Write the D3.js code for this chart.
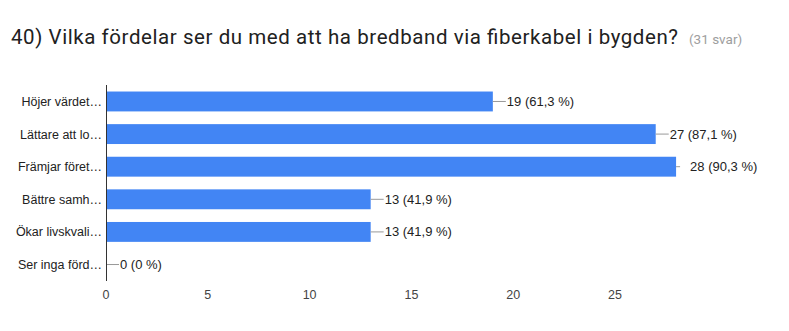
<!DOCTYPE html>
<html><head><meta charset="utf-8">
<script src="https://cdn.jsdelivr.net/npm/d3@7/dist/d3.min.js"></script>
<style>body{margin:0;background:#fff;}svg{display:block;}</style>
</head><body>
<svg id="c" width="789" height="331"></svg>
<script>
const titleText = "40) Vilka fördelar ser du med att ha bredband via fiberkabel i bygden?";
const subText = "(31 svar)";
const categories = ["Höjer värdet…","Lättare att lo…","Främjar föret…","Bättre samh…","Ökar livskvali…","Ser inga förd…"];
const values = [19, 27, 28, 13, 13, 0];
const percents = ["61,3 %","87,1 %","90,3 %","41,9 %","41,9 %","0 %"];
const ticks = [0, 5, 10, 15, 20, 25];

const svg = d3.select("#c");
svg.append("text").attr("x", 11).attr("y", 44)
  .attr("font-family", "Roboto, sans-serif").attr("font-size", 20.5).attr("fill", "#212121")
  .attr("textLength", 667).attr("lengthAdjust", "spacing")
  .text(titleText);
svg.append("text").attr("x", 689).attr("y", 44)
  .attr("font-family", "Roboto, sans-serif").attr("font-size", 13.5).attr("fill", "#9e9e9e")
  .text(subText);

const x = d3.scaleLinear().domain([0, 25]).range([106, 615]);
const y = d3.scaleBand().domain(categories).range([85, 281]).paddingInner(0.39).paddingOuter(0.2);

const font = "Liberation Sans, Arial, sans-serif";
const g = svg.append("g");
g.selectAll("rect.bar").data(values).enter().append("rect")
  .attr("class", "bar")
  .attr("x", x(0)).attr("y", (d, i) => y(categories[i]))
  .attr("width", d => x(d) - x(0)).attr("height", y.bandwidth())
  .attr("fill", "#4285f4");

// leader lines
g.selectAll("line.lead").data(values).enter().append("line")
  .attr("x1", d => x(d)).attr("x2", (d, i) => x(d) + (d === 28 ? 4 : 13))
  .attr("y1", (d, i) => y(categories[i]) + y.bandwidth() / 2)
  .attr("y2", (d, i) => y(categories[i]) + y.bandwidth() / 2)
  .attr("stroke", "#999").attr("stroke-width", 1);

g.selectAll("text.val").data(values).enter().append("text")
  .attr("x", (d, i) => x(d) + 14)
  .attr("y", (d, i) => y(categories[i]) + y.bandwidth() / 2 + 4.5)
  .attr("font-family", font).attr("font-size", 13).attr("fill", "#222")
  .text((d, i) => d + " (" + percents[i] + ")");

// category labels
g.selectAll("text.cat").data(categories).enter().append("text")
  .attr("x", 102).attr("y", d => y(d) + y.bandwidth() / 2 + 4.5)
  .attr("text-anchor", "end")
  .attr("font-family", font).attr("font-size", 12.5).attr("fill", "#222")
  .text(d => d);

// axis line
g.append("line").attr("x1", x(0) + 0.5).attr("x2", x(0) + 0.5).attr("y1", 85).attr("y2", 281)
  .attr("stroke", "#333").attr("stroke-width", 1);

// tick labels
g.selectAll("text.tick").data(ticks).enter().append("text")
  .attr("x", d => x(d)).attr("y", 299)
  .attr("text-anchor", "middle")
  .attr("font-family", font).attr("font-size", 12.5).attr("fill", "#444")
  .text(d => d);
</script>
</body></html>
